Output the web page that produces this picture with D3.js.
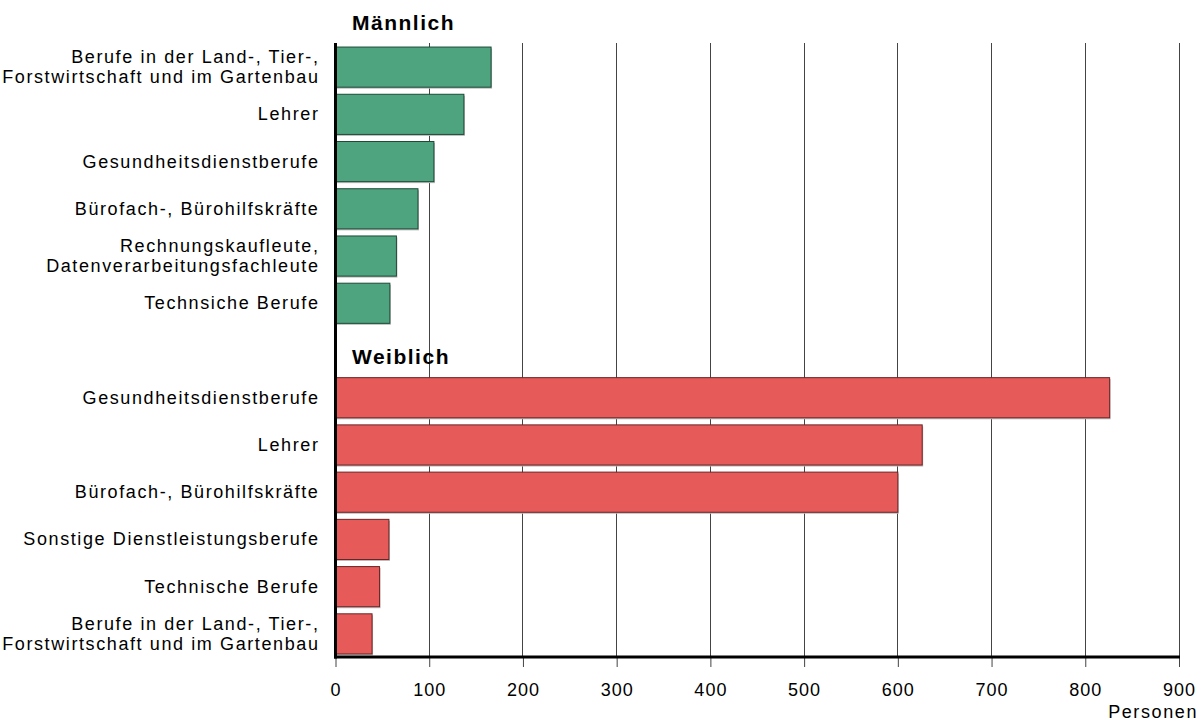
<!DOCTYPE html>
<html><head><meta charset="utf-8">
<script src="https://cdn.jsdelivr.net/npm/d3@7"></script>
<style>body{margin:0;background:#fff}svg{display:block}text{font-family:"Liberation Sans",Arial,sans-serif;fill:#000}</style>
</head><body><svg id="c" width="1204" height="727"></svg>
<script>
const maleCategories = ["Berufe in der Land-, Tier-,\nForstwirtschaft und im Gartenbau","Lehrer","Gesundheitsdienstberufe","Bürofach-, Bürohilfskräfte","Rechnungskaufleute,\nDatenverarbeitungsfachleute","Technsiche Berufe"];
const maleValues = [166, 137, 105, 88, 65, 58];
const femaleCategories = ["Gesundheitsdienstberufe","Lehrer","Bürofach-, Bürohilfskräfte","Sonstige Dienstleistungsberufe","Technische Berufe","Berufe in der Land-, Tier-,\nForstwirtschaft und im Gartenbau"];
const femaleValues = [826, 626, 600, 57, 47, 39];
const groupTitles = ["Männlich", "Weiblich"];
const xTicks = [0,100,200,300,400,500,600,700,800,900];
const xAxisTitle = "Personen";

(function(){
const svg = d3.select("#c");
const pLeft = 335.5, pRight = 1179, pTop = 43, pBottom = 657;
const FS = 18, LS = 1.6;
const x = d3.scaleLinear().domain([0, 900]).range([pLeft, pRight]);
const rows = [];
maleCategories.forEach((c,i)=>rows.push({key:"m"+i, label:c, value:maleValues[i], g:0}));
rows.push({key:"gap", label:"", value:null});
femaleCategories.forEach((c,i)=>rows.push({key:"f"+i, label:c, value:femaleValues[i], g:1}));
const y = d3.scaleBand().domain(rows.map(r=>r.key)).range([pTop, pBottom]).paddingInner(0.15).paddingOuter(0.075);

// grid
svg.append("g").selectAll("line").data(xTicks.slice(1)).join("line")
  .attr("x1", d=>x(d)).attr("x2", d=>x(d)).attr("y1", pTop).attr("y2", pBottom)
  .attr("stroke", "#444").attr("stroke-width", 1).attr("shape-rendering","crispEdges");

const fills = ["#4ea47f", "#e75a5a"];
const strokes = ["#1e4a37", "#6b2424"];
const data = rows.filter(r=>r.value!==null);
// shadow
svg.append("g").selectAll("rect").data(data).join("rect")
  .attr("x", x(0)+1).attr("y", d=>y(d.key)+2)
  .attr("width", d=>x(d.value)-x(0)).attr("height", y.bandwidth())
  .attr("fill", "#bbb");
svg.append("g").selectAll("rect").data(data).join("rect")
  .attr("x", x(0)).attr("y", d=>y(d.key)+0.5)
  .attr("width", d=>x(d.value)-x(0)).attr("height", y.bandwidth())
  .attr("fill", d=>fills[d.g]).attr("stroke", d=>strokes[d.g]).attr("stroke-width", 1);

// labels
const lab = svg.append("g").selectAll("text").data(data).join("text")
  .attr("text-anchor","end").attr("font-size", FS).attr("letter-spacing", LS)
  .attr("transform", d=>`translate(${pLeft-16},${y(d.key)+y.bandwidth()/2})`);
lab.each(function(d){
  const lines = d.label.split("\n");
  const t = d3.select(this);
  lines.forEach((l,i)=>{
    t.append("tspan").attr("x",0).attr("y", (i-(lines.length-1)/2)*20 + 6.5).text(l);
  });
});

// group titles
svg.append("text").attr("x", 352).attr("y", 30).attr("font-size", 21).attr("letter-spacing", 1.5).attr("font-weight","bold").text(groupTitles[0]);
svg.append("text").attr("x", 352).attr("y", 364).attr("font-size", 21).attr("letter-spacing", 1.5).attr("font-weight","bold").text(groupTitles[1]);

// axes
const xAxis = d3.axisBottom(x).tickValues(xTicks).tickSize(10).tickPadding(16).tickFormat(d3.format("d"));
const ax = svg.append("g").attr("transform", `translate(0,${pBottom})`).call(xAxis);
ax.select(".domain").remove();
ax.selectAll(".tick line").attr("stroke","#444");
ax.selectAll(".tick text").attr("font-size", FS).attr("letter-spacing", 1).attr("font-family","Liberation Sans, Arial, sans-serif").attr("fill","#000");
svg.append("line").attr("x1", pLeft-1.5).attr("x2", pRight+1).attr("y1", pBottom).attr("y2", pBottom).attr("stroke","#000").attr("stroke-width",3);
svg.append("line").attr("x1", pLeft).attr("x2", pLeft).attr("y1", pTop).attr("y2", pBottom+1.5).attr("stroke","#000").attr("stroke-width",3);
svg.append("text").attr("x", 1198).attr("y", 718).attr("text-anchor","end").attr("font-size",FS).attr("letter-spacing", LS).text(xAxisTitle);
})();
</script></body></html>
